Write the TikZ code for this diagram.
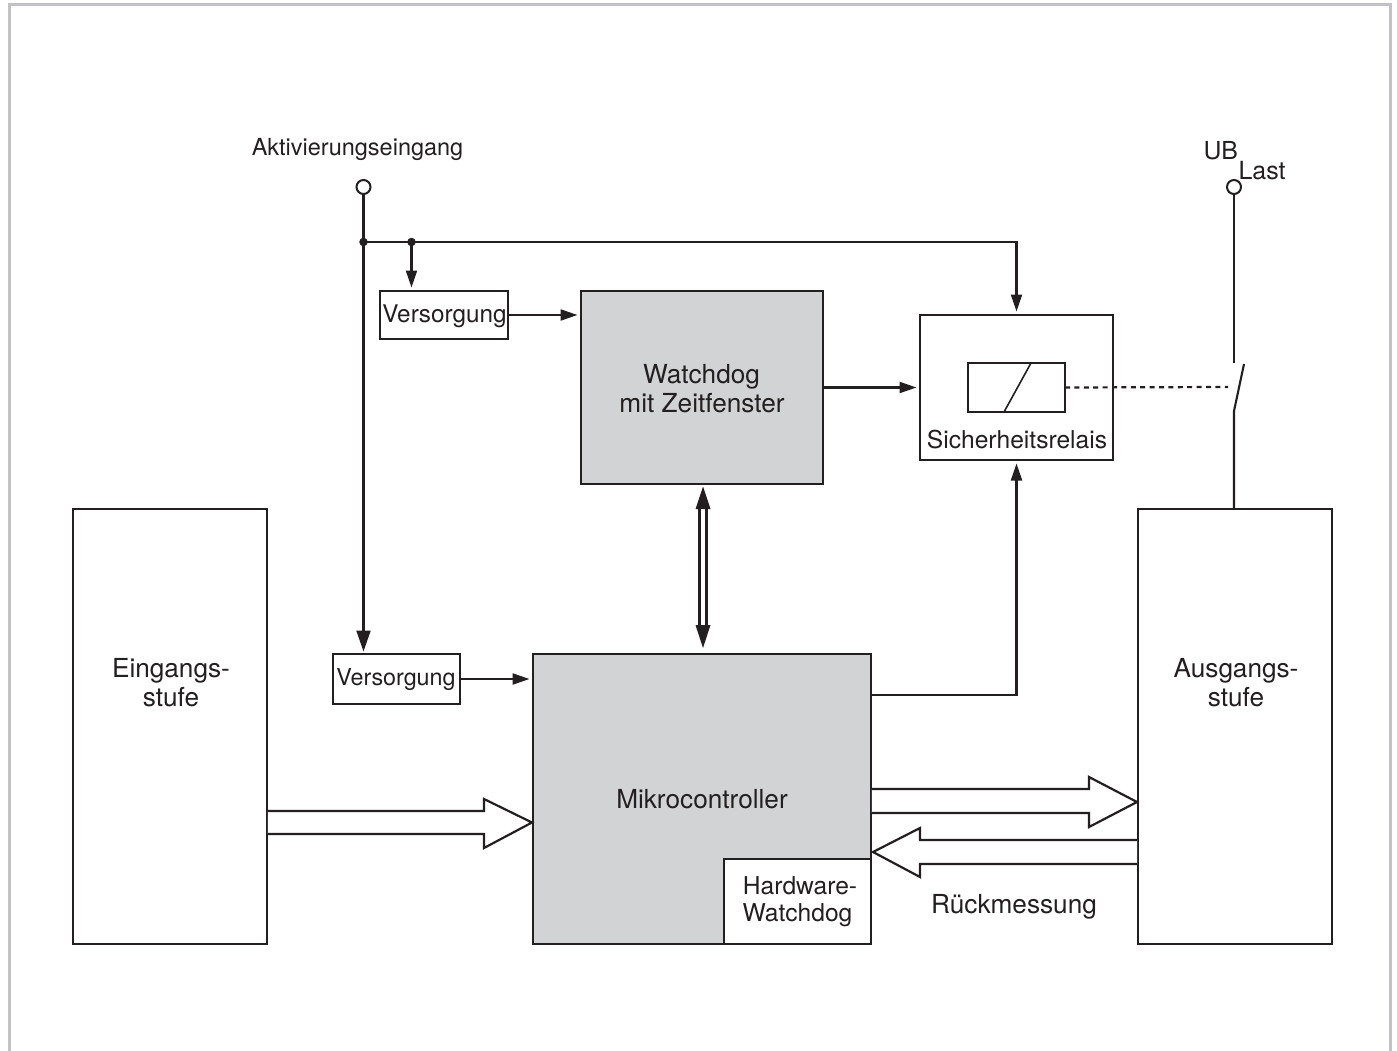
\documentclass[tikz,border=0pt]{standalone}
\usepackage{fontspec}
\setmainfont{TeX Gyre Heros}
\usetikzlibrary{arrows.meta}
\definecolor{ink}{HTML}{231F20}
\definecolor{fillgray}{HTML}{D1D3D4}
\definecolor{framegray}{HTML}{C2C2C6}
\newcommand{\fsA}{\fontsize{24.6}{29}\selectfont}
\newcommand{\fsB}{\fontsize{26.2}{29}\selectfont}
\tikzset{
  x=1pt,y=-1pt,
  wire/.style={draw=ink,line width=2.1pt},
  thin wire/.style={draw=ink,line width=1.6pt},
  smalltip/.style={-{Triangle[length=17pt,width=11pt]},shorten >=3.5pt},
  bigtip/.style={-{Triangle[length=21pt,width=14pt]},shorten >=2.5pt},
  box/.style={draw=ink,line width=1.6pt,fill=white,inner sep=0pt,outer sep=0pt,rectangle},
  graybox/.style={box,fill=fillgray},
  txt/.style={text=ink,inner sep=0pt,outer sep=0pt,anchor=base},
  term/.style={circle,draw=ink,line width=2pt,fill=white,minimum size=14pt,inner sep=0pt,outer sep=0pt},
  dot/.style={circle,fill=ink,minimum size=8.5pt,inner sep=0pt,outer sep=0pt},
  blockarrow/.style={draw=ink,line width=2.2pt,fill=white,miter limit=10},
}
\begin{document}
\begin{tikzpicture}
\useasboundingbox (0,0) rectangle (1397,1051);
\draw[framegray,line width=3pt] (9.5,1051) -- (9.5,4.5) -- (1390.5,4.5) -- (1390.5,1051);

% boxes
\node[box,minimum width=194pt,minimum height=435pt] (ein) at (170,726.5) {};
\node[box,minimum width=194pt,minimum height=435pt] (aus) at (1235,726.5) {};
\node[graybox,minimum width=338pt,minimum height=290pt] (mc) at (702,799) {};
\node[box,minimum width=147pt,minimum height=85pt,anchor=south east] (hw) at (mc.south east) {};
\node[graybox,minimum width=242pt,minimum height=193pt] (wd) at (702,387.5) {};
\node[box,minimum width=193pt,minimum height=145pt] (rel) at (1016.5,387.5) {};
\node[box,minimum width=97pt,minimum height=49pt] (coil) at (1016.5,387.5) {};
\node[box,minimum width=128pt,minimum height=48pt] (v1) at (444,315) {};
\node[box,minimum width=127pt,minimum height=50pt] (v2) at (396.5,679) {};

% texts
\node[txt,font=\fontsize{24.3}{29}\selectfont] (tv1) at (444.5,322) {Versorgung};
\node[txt,font=\fontsize{23.3}{29}\selectfont] (tv2) at (396,685) {Versorgung};
\node[txt,font=\fsB] (twd1) at (701.5,383) {Watchdog};
\node[txt,font=\fsB] (twd2) at (702,412) {mit Zeitfenster};
\node[txt,font=\fsA] (trel) at (1017,448) {Sicherheitsrelais};
\node[txt,font=\fsB] (tein1) at (171,677) {Eingangs-};
\node[txt,font=\fsB] (tein2) at (171,706) {stufe};
\node[txt,font=\fsB] (taus1) at (1236,677) {Ausgangs-};
\node[txt,font=\fsB] (taus2) at (1236,706) {stufe};
\node[txt,font=\fsB] (tmc) at (702,808) {Mikrocontroller};
\node[txt,font=\fsA] (thw1) at (800,894) {Hardware-};
\node[txt,font=\fsA] (thw2) at (797.5,921) {Watchdog};
\node[txt,font=\fsB] (trm) at (1014,913) {Rückmessung};
\node[txt,font=\fontsize{23.5}{28}\selectfont] (tak) at (357.5,156) {Aktivierungseingang};
\node[txt,font=\fontsize{24.8}{29}\selectfont,anchor=base west] (tub) at (1203.5,160) {UB};
\node[txt,font=\fontsize{25}{29}\selectfont,anchor=base west] (tlast) at (1238.5,180) {Last};

% terminals and junctions
\node[term] (ta) at (363.5,187) {};
\node[term] (tb) at (1234,187) {};
\node[dot] (j1) at (363.5,242) {};
\node[dot] (j2) at (411.5,242) {};

% coil diagonal
\draw[thin wire] (1004,412) -- (1031,363);

% activation wiring
\draw[wire] (ta.south) -- (j1.center);
\draw[wire,bigtip] (j1.center) -- (j1.center |- v2.north);
\draw[wire] (j1.center) -- (j2.center);
\draw[wire,smalltip] (j2.center) -- (j2.center |- v1.north);
\draw[wire,smalltip] (j2.center) -| (rel.north);

\coordinate (wdin) at (wd.west |- v1.east);
\draw[wire,smalltip] (v1.east) -- (wdin);
\coordinate (mcin) at (mc.west |- v2.east);
\draw[wire,smalltip] (v2.east) -- (mcin);
\draw[wire,smalltip] (wd.east) -- (rel.west);

\coordinate (mcout) at (mc.east |- 0,695);
\draw[wire,smalltip] (mcout) -| (rel.south);

% double arrow
\draw[draw=ink,line width=3pt] (699.8,505) -- (699.8,630);
\draw[draw=ink,line width=3pt] (706.2,505) -- (706.2,630);
\fill[ink] (703,486.5) -- (710.5,509) -- (695.5,509) -- cycle;
\fill[ink] (703,648) -- (710.5,625) -- (695.5,625) -- cycle;

% switch
\coordinate (swtop) at (1234,363);
\coordinate (swa) at (1244,364);
\coordinate (swb) at (1234,411);
\draw[wire] (tb.south) -- (swtop);
\draw[wire] (swa) -- (swb) -- (swb |- aus.north);
\coordinate (dashend) at (1228,387);
\draw[draw=ink,line width=2.2pt,dash pattern=on 5pt off 4.4pt] (coil.east) -- (dashend);

% block arrows: tails stop just past the box borders, which stay visible
\draw[blockarrow] ([xshift=0.8pt]ein.east |- 0,811) -- (484,811) -- (484,799) -- (532,822.5) -- (484,848) -- (484,834) -- ([xshift=0.8pt]ein.east |- 0,834);
\draw[blockarrow] ([xshift=0.8pt]mc.east |- 0,789) -- (1089,789) -- (1089,777) -- (1137,802) -- (1089,827) -- (1089,813) -- ([xshift=0.8pt]mc.east |- 0,813);
\draw[blockarrow] ([xshift=-0.8pt]aus.west |- 0,840) -- (920,840) -- (920,828) -- (873,852) -- (920,877) -- (920,864) -- ([xshift=-0.8pt]aus.west |- 0,864);
\end{tikzpicture}
\end{document}
